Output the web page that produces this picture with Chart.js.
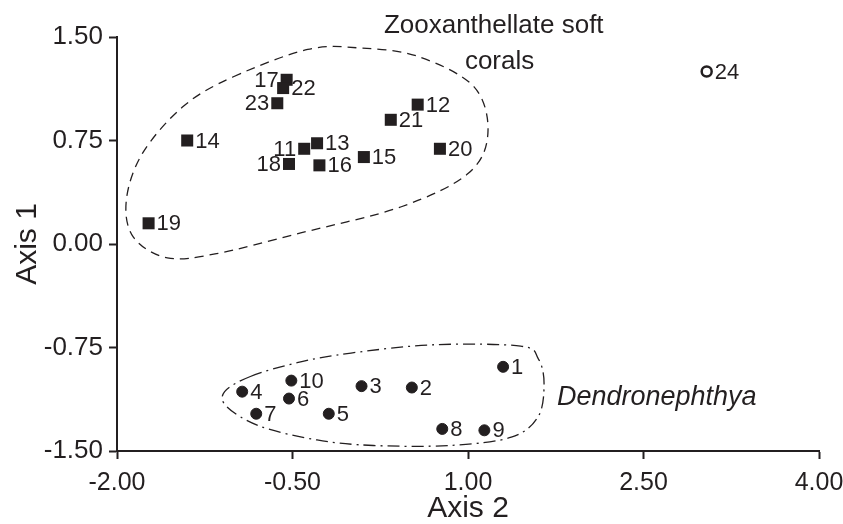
<!DOCTYPE html>
<html>
<head>
<meta charset="utf-8">
<script src="https://cdn.jsdelivr.net/npm/chart.js"></script>
<style>
  html, body { margin: 0; padding: 0; background: #fff; }
  #wrap { width: 843px; height: 524px; }
</style>
</head>
<body>
<div id="wrap"><canvas id="ordination"></canvas></div>
<script>
// zooxanthellate soft corals (squares)
const softLabels = ['11', '12', '13', '14', '15', '16', '17', '18', '19', '20', '21', '22', '23'];
const softX = [-0.40, 0.57, -0.29, -1.40, 0.11, -0.27, -0.55, -0.53, -1.73, 0.76, 0.34, -0.58, -0.63];
const softY = [0.69, 1.01, 0.73, 0.75, 0.63, 0.57, 1.19, 0.58, 0.15, 0.69, 0.90, 1.13, 1.02];

// Dendronephthya (filled circles)
const dendroLabels = ['1', '2', '3', '4', '5', '6', '7', '8', '9', '10'];
const dendroX = [1.30, 0.52, 0.09, -0.93, -0.19, -0.53, -0.81, 0.78, 1.14, -0.51];
const dendroY = [-0.89, -1.04, -1.03, -1.07, -1.23, -1.12, -1.23, -1.34, -1.35, -0.99];

// sample 24 (open circle)
const otherLabels = ['24'];
const otherX = [3.04];
const otherY = [1.25];

// labels written to the left of their marker
const leftLabelled = ['11', '17', '18', '23'];

// group outlines
const softHullX = [-1.01, -0.37, 0.08, 0.57, 1.05, 1.17, 1.00, 0.43, -0.43, -1.15, -1.57, -1.86, -1.92, -1.78, -1.43];
const softHullY = [1.21, 1.41, 1.42, 1.36, 1.14, 0.80, 0.51, 0.27, 0.08, -0.07, -0.10, 0.05, 0.32, 0.66, 1.00];
const dendroHullX = [-0.86, -0.46, 0.00, 0.71, 1.45, 1.60, 1.65, 1.60, 1.37, 0.85, 0.19, -0.29, -0.78, -1.06, -1.08];
const dendroHullY = [-0.96, -0.86, -0.79, -0.73, -0.74, -0.83, -1.01, -1.25, -1.40, -1.46, -1.46, -1.42, -1.32, -1.18, -1.07];

// axis ticks
const xTicks = [-2.00, -0.50, 1.00, 2.50, 4.00];
const yTicks = [-1.50, -0.75, 0.00, 0.75, 1.50];

const ink = '#231f20';
const fontFamily = "'Liberation Sans', Arial, sans-serif";

function toPoints(xs, ys) {
  return xs.map((x, i) => ({ x: x, y: ys[i] }));
}

// closed smooth outline through the hull vertices
function drawClosedCurve(ctx, pts) {
  const n = pts.length;
  ctx.beginPath();
  ctx.moveTo(pts[0].x, pts[0].y);
  for (let i = 0; i < n; i++) {
    const p0 = pts[(i - 1 + n) % n], p1 = pts[i], p2 = pts[(i + 1) % n], p3 = pts[(i + 2) % n];
    ctx.bezierCurveTo(
      p1.x + (p2.x - p0.x) / 6, p1.y + (p2.y - p0.y) / 6,
      p2.x - (p3.x - p1.x) / 6, p2.y - (p3.y - p1.y) / 6,
      p2.x, p2.y);
  }
  ctx.closePath();
  ctx.stroke();
}

const outlines = {
  id: 'outlines',
  beforeDatasetsDraw(chart) {
    const { ctx, scales: { x, y } } = chart;
    const px = (xs, ys) => xs.map((v, i) => ({ x: x.getPixelForValue(v), y: y.getPixelForValue(ys[i]) }));
    ctx.save();
    ctx.strokeStyle = ink;
    ctx.lineWidth = 1.3;
    ctx.setLineDash([9, 6]);
    drawClosedCurve(ctx, px(softHullX, softHullY));
    ctx.setLineDash([12, 5, 2, 5]);
    drawClosedCurve(ctx, px(dendroHullX, dendroHullY));
    ctx.restore();
  }
};

const pointLabels = {
  id: 'pointLabels',
  afterDatasetsDraw(chart) {
    const { ctx, scales: { x, y } } = chart;
    ctx.save();
    ctx.fillStyle = ink;
    ctx.font = '22px ' + fontFamily;
    ctx.textBaseline = 'middle';
    chart.data.datasets.forEach((ds, di) => {
      const meta = chart.getDatasetMeta(di);
      meta.data.forEach((el, i) => {
        const txt = ds.names[i];
        if (leftLabelled.includes(txt)) {
          ctx.textAlign = 'right';
          ctx.fillText(txt, el.x - 8, el.y + 1);
        } else {
          ctx.textAlign = 'left';
          ctx.fillText(txt, el.x + 8, el.y + 1);
        }
      });
    });

    // group names
    ctx.textAlign = 'center';
    ctx.textBaseline = 'alphabetic';
    ctx.font = '26px ' + fontFamily;
    ctx.fillText('Zooxanthellate soft', x.getPixelForValue(1.22), 33);
    ctx.fillText('corals', x.getPixelForValue(1.27), 69);
    ctx.textAlign = 'left';
    ctx.font = 'italic 27px ' + fontFamily;
    ctx.fillText('Dendronephthya', x.getPixelForValue(1.76), y.getPixelForValue(-1.10) + 9);
    ctx.restore();
  }
};

new Chart(document.getElementById('ordination'), {
  type: 'scatter',
  data: {
    datasets: [
      {
        names: softLabels,
        data: toPoints(softX, softY),
        pointStyle: 'rect',
        pointRadius: 8.5,
        pointHoverRadius: 8.5,
        backgroundColor: ink,
        borderColor: ink,
        borderWidth: 0
      },
      {
        names: dendroLabels,
        data: toPoints(dendroX, dendroY),
        pointStyle: 'circle',
        pointRadius: 5.5,
        pointHoverRadius: 5.5,
        backgroundColor: ink,
        borderColor: ink,
        borderWidth: 1
      },
      {
        names: otherLabels,
        data: toPoints(otherX, otherY),
        pointStyle: 'circle',
        pointRadius: 5,
        pointHoverRadius: 5,
        backgroundColor: '#fff',
        borderColor: ink,
        borderWidth: 2.5
      }
    ]
  },
  options: {
    responsive: true,
    maintainAspectRatio: false,
    animation: false,
    layout: { padding: { top: 37, right: 24, left: 0, bottom: 0 } },
    plugins: { legend: { display: false }, tooltip: { enabled: false } },
    scales: {
      x: {
        type: 'linear',
        min: -2,
        max: 4,
        afterBuildTicks: s => { s.ticks = xTicks.map(v => ({ value: v })); },
        afterFit: s => {
          s.height = 73;
          // let the last label hang over the right margin
          s.paddingLeft = 0;
          s.paddingRight = 0;
        },
        grid: { display: true, drawOnChartArea: false, drawTicks: true, tickLength: 8, tickWidth: 2, tickColor: ink },
        border: { display: true, color: ink, width: 2 },
        ticks: {
          color: ink,
          padding: 9,
          maxRotation: 0,
          font: { family: fontFamily, size: 25 },
          callback: v => v.toFixed(2)
        },
        title: {
          display: true,
          text: 'Axis 2',
          color: ink,
          font: { family: fontFamily, size: 30, lineHeight: 1 },
          padding: { top: 0, bottom: 0 }
        }
      },
      y: {
        type: 'linear',
        min: -1.5,
        max: 1.5,
        afterBuildTicks: s => { s.ticks = yTicks.map(v => ({ value: v })); },
        afterFit: s => { s.width = 117; },
        grid: { display: true, drawOnChartArea: false, drawTicks: true, tickLength: 8, tickWidth: 2, tickColor: ink },
        border: { display: true, color: ink, width: 2 },
        ticks: {
          color: ink,
          padding: 6,
          font: { family: fontFamily, size: 26 },
          callback: v => v.toFixed(2)
        },
        title: {
          display: true,
          text: 'Axis 1',
          color: ink,
          font: { family: fontFamily, size: 30, lineHeight: 1 },
          padding: { top: 13, bottom: 0 }
        }
      }
    }
  },
  plugins: [outlines, pointLabels]
});
</script>
</body>
</html>
